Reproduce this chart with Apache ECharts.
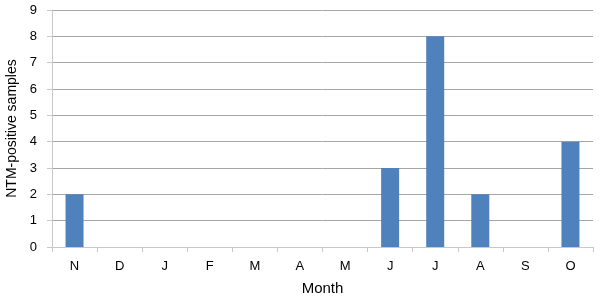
<!DOCTYPE html>
<html><head><meta charset="utf-8">
<script src="https://cdn.jsdelivr.net/npm/echarts@6/dist/echarts.min.js"></script>
<style>html,body{margin:0;padding:0;background:#fff}#c{width:600px;height:302px}</style>
</head><body><div id="c"></div>
<script>
const categories = ['N','D','J','F','M','A','M','J','J','A','S','O'];
const samples = [2,0,0,0,0,0,0,3,8,2,0,4];
const yTicks = [0,1,2,3,4,5,6,7,8,9];

const chart = echarts.init(document.getElementById('c'), null, {renderer:'canvas'});
chart.setOption({
  animation:false,
  grid:{left:52, right:7, top:10, bottom:55, containLabel:false, outerBoundsMode:'none'},
  xAxis:{
    type:'category', data:categories,
    name:'Month', nameLocation:'middle', nameGap:34,
    nameTextStyle:{fontFamily:'Liberation Sans', fontSize:15, color:'#000'},
    axisLine:{lineStyle:{color:'#c8c8c8', width:1}},
    axisTick:{show:true, length:5, inside:false, alignWithLabel:false, lineStyle:{color:'#c8c8c8'}},
    axisLabel:{fontFamily:'Liberation Sans', fontSize:13, color:'#000', margin:13}
  },
  yAxis:{
    type:'value', min:yTicks[0], max:yTicks[yTicks.length-1], interval:1,
    name:'NTM-positive samples', nameLocation:'middle', nameGap:25,
    nameTextStyle:{fontFamily:'Liberation Sans', fontSize:14, color:'#000'},
    axisLine:{show:true, lineStyle:{color:'#c8c8c8'}},
    axisTick:{show:true, length:5, lineStyle:{color:'#c8c8c8'}},
    axisLabel:{fontFamily:'Liberation Sans', fontSize:13, color:'#000', margin:15},
    splitLine:{show:true, lineStyle:{color:'#a6a6a6', width:1}}
  },
  series:[{
    type:'bar', data:samples, barWidth:18,
    itemStyle:{color:'#4f81bd'}
  }]
});
</script></body></html>
